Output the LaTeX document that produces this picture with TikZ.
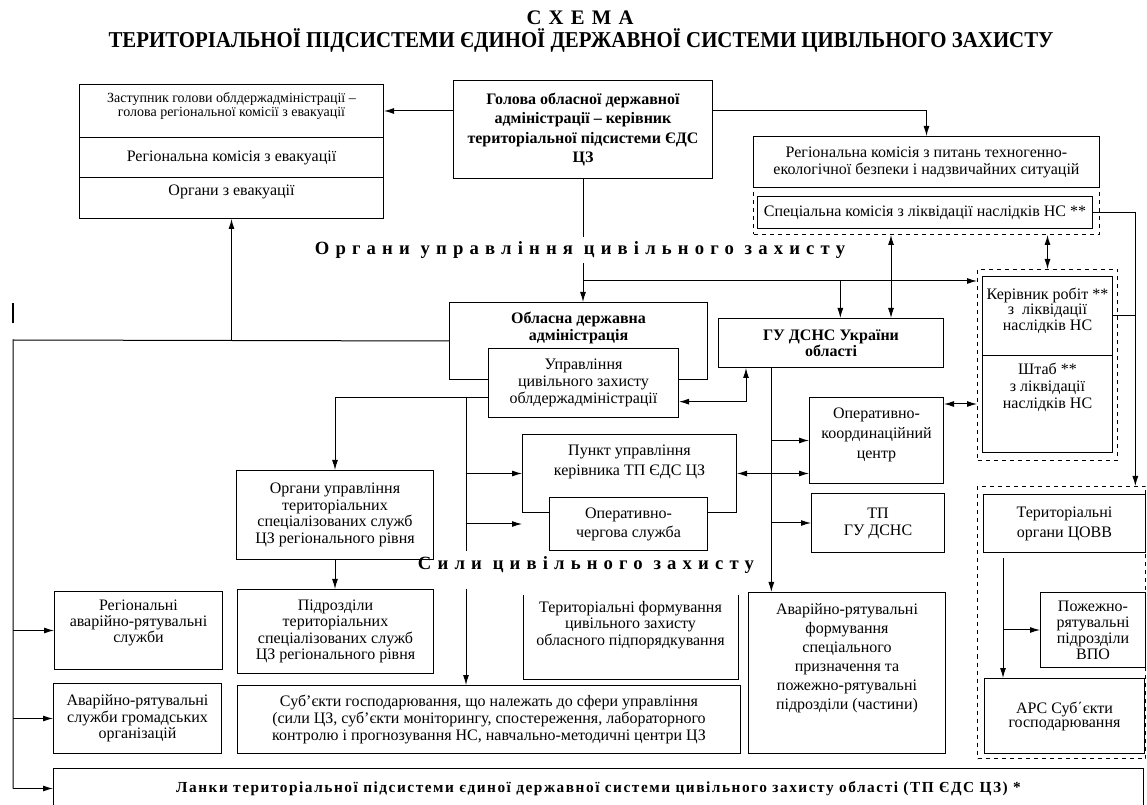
\documentclass[tikz,border=0pt]{standalone}
\usepackage{fontspec}
\setmainfont{Liberation Serif}
\newfontfamily\spaced[LetterSpace=33]{Liberation Serif}
\newfontfamily\lspaced[LetterSpace=10]{Liberation Serif}
\usepackage{graphicx}
\usetikzlibrary{arrows.meta}
\newcommand\fs[2]{\fontsize{#1}{#2}\selectfont}
\newcommand\lift[1]{\\[#1]\mbox{}}
\tikzset{
  box/.style={draw,line width=0.75pt,fill=white,inner sep=0pt,anchor=north west,align=center,font=\fs{12}{13.5}},
  boxsize/.style 2 args={minimum width=#1*0.75pt,minimum height=#2*0.75pt},
  frame/.style={draw,dashed,line width=0.75pt,inner sep=0pt,anchor=north west},
  heading/.style={font=\spaced\bfseries\fs{14}{16}},
  link/.style={line width=0.75pt},
  arr/.style={link,-{Latex[length=7.5pt,width=4.5pt]}},
  darr/.style={link,{Latex[length=7.5pt,width=4.5pt]}-{Latex[length=7.5pt,width=4.5pt]}}
}
\begin{document}
\begin{tikzpicture}[x=0.75pt,y=-0.75pt]
  \useasboundingbox (0,0) rectangle (1147,805);
  % title
  \node (title) at (580,18) {\lspaced\bfseries\fs{15.5}{17}С Х Е М А};
  \node (subtitle) at (581,40) {\bfseries\fs{17}{19}\scalebox{0.92}[1]{ТЕРИТОРІАЛЬНОЇ ПІДСИСТЕМИ ЄДИНОЇ ДЕРЖАВНОЇ СИСТЕМИ ЦИВІЛЬНОГО ЗАХИСТУ}};

  % evacuation
  \node[box,boxsize={304}{53},font=\fs{10.5}{10.5}] (zast) at (79,84) {Заступник голови облдержадміністрації –\\голова регіональної комісії з евакуації\lift{-1pt}};
  \node[box,boxsize={304}{40}] (evk) at (79,137) {Регіональна комісія з евакуації};
  \node[box,boxsize={304}{41}] (orgevk) at (79,177) {Органи з евакуації\lift{-2pt}};

  % head and commissions
  \node[box,boxsize={259}{98},font=\bfseries\fs{12}{14.3}] (head) at (453,80) {Голова обласної державної\\адміністрації – керівник\\територіальної підсистеми ЄДС\\ЦЗ};
  \node[frame,boxsize={346}{47}] (spkf) at (753,187) {};
  \node[box,boxsize={346}{51},font=\fs{12}{12.75}] (rkteb) at (753,136) {Регіональна комісія з питань техногенно-\\екологічної безпеки і надзвичайних ситуацій};
  \node[box,boxsize={335}{32}] (spk) at (757,196) {Спеціальна комісія з ліквідації наслідків НС **};

  \node[heading] (ouz) at (580,250) {Органи управління цивільного захисту};

  % management bodies
  \node[box,boxsize={258}{77},font=\bfseries\fs{12}{12.75}] (oda) at (449,302) {Обласна державна\\адміністрація\lift{10pt}};
  \node[box,boxsize={190}{69},font=\fs{12}{13}] (upr) at (488,348) {Управління\\цивільного захисту\\облдержадміністрації};
  \node[box,boxsize={225}{49},font=\bfseries\fs{12}{12}] (gu) at (718,318) {ГУ ДСНС України\\області};
  \node[frame,boxsize={140}{191}] (krf) at (977,269) {};
  \node[box,boxsize={130}{79},font=\fs{12}{11.6}] (kr) at (982,276) {Керівник робіт **\\з\ \ ліквідації\\наслідків НС\lift{-1pt}};
  \node[box,boxsize={130}{97},font=\fs{12}{12.75}] (shtab) at (982,355) {Штаб **\\з ліквідації\\наслідків НС\lift{15pt}};
  \node[box,boxsize={134}{86},font=\fs{12}{15}] (okc) at (809,397) {Оперативно-\\координаційний\\центр\lift{-4.5pt}};
  \node[box,boxsize={133}{59},font=\fs{12}{12.75}] (tp) at (811,493) {ТП\\ГУ ДСНС};
  \node[box,boxsize={214}{78},font=\fs{12}{15}] (pu) at (522,434) {Пункт управління\\керівника ТП ЄДС ЦЗ\lift{4.5pt}};
  \node[box,boxsize={158}{53},font=\fs{12}{14.25}] (ochs) at (549,497) {Оперативно-\\чергова служба};
  \node[box,boxsize={197}{89},font=\fs{12}{12.5}] (outs) at (236,470) {Органи управління\\територіальних\\спеціалізованих служб\\ЦЗ регіонального рівня};

  \node[heading] (sz) at (586,565) {Сили цивільного захисту};

  % forces
  \node[frame,boxsize={168}{272}] (tsfr) at (977,486) {};
  \node[box,boxsize={162}{58},font=\fs{12}{15}] (tocovv) at (983,494) {Територіальні\\органи ЦОВВ};
  \node[box,boxsize={105}{75},font=\fs{12}{12}] (vpo) at (1040,592) {Пожежно-\\рятувальні\\підрозділи\\ВПО};
  \node[box,boxsize={160}{75},font=\fs{12}{10.5}] (ars) at (984,678) {АРС Суб΄єкти\\господарювання};
  \node[box,boxsize={197}{161},font=\fs{12}{14.25}] (arf) at (748,592) {Аварійно-рятувальні\\формування\\спеціального\\призначення та\\пожежно-рятувальні\\підрозділи (частини)\lift{11pt}};
  \node[box,boxsize={168}{78},font=\fs{12}{12}] (ras) at (54,591) {Регіональні\\аварійно-рятувальні\\служби\lift{1.5pt}};
  \node[box,boxsize={196}{84},font=\fs{12}{12.25}] (pidr) at (237,589) {Підрозділи\\територіальних\\спеціалізованих служб\\ЦЗ регіонального рівня};
  \node[box,draw=none,boxsize={214}{83},font=\fs{12}{12.4}] (tf) at (523,595) {Територіальні формування\\цивільного захисту\\обласного підпорядкування\lift{8.5pt}};
  \draw[link] (tf.north west) -- (tf.south west) -- (tf.south east) -- (tf.north east);
  \node[box,boxsize={168}{70},font=\fs{12}{12.4}] (gro) at (53,683) {Аварійно-рятувальні\\служби громадських\\організацій};
  \node[box,boxsize={503}{68},font=\fs{12}{13}] (sub) at (237,685) {Суб’єкти господарювання, що належать до сфери управління\\(сили ЦЗ, суб’єкти моніторингу, спостереження, лабораторного\\контролю і прогнозування НС, навчально-методичні центри ЦЗ};
  \node[box,boxsize={1090}{40},font=\lspaced\bfseries\fs{11.5}{13}] (lanky) at (53,768) {Ланки територіальної підсистеми єдиної державної системи цивільного захисту області (ТП ЄДС ЦЗ) *};

  % connectors from the head
  \draw[arr] (head.west |- zast.east) -- (zast.east);
  \draw[arr] (head.east |- zast.east) -| (rkteb.north);
  \draw[link] (head.south) -- (head.south |- ouz.north);
  \draw[arr] (head.south |- ouz.south) -- (head.south |- oda.north);
  \coordinate (hub) at (583,281);
  \draw[arr] (hub) -- (hub -| krf.west);
  \draw[arr] ([xshift=7pt]gu.north |- hub) -- ([xshift=7pt]gu.north);
  \draw[darr] ([xshift=45pt]gu.north) -- ([xshift=45pt]gu.north |- spkf.south);
  \draw[darr] (krf.north) -- (krf.north |- spkf.south);
  \coordinate (rr) at ([xshift=-8pt]tsfr.north east);
  \draw[arr] (spk.east) -| (rr);
  \draw[link] (kr.east) -- (kr.east -| rr);

  % left rail
  \coordinate (rail) at (13,340);
  \draw[link] (oda.west) -- (rail) -- (rail |- lanky.west);
  \foreach \n in {ras,gro,lanky}
    \draw[arr] (rail |- \n.west) -- (\n.west);
  \draw[arr] (orgevk.south |- rail) -- (orgevk.south);
  \draw[line width=1.1pt] (13,303) -- (13,323);

  % middle
  \draw[arr] ([yshift=-11pt]upr.west) -| (outs.north);
  \coordinate (mid) at (466,397);
  \draw[link] (mid) -- (mid |- ochs.south);
  \draw[arr] (mid |- pu.west) -- (pu.west);
  \draw[arr] (mid |- ochs.west) -- (ochs.west -| pu.west);
  \draw[arr] (mid |- pidr.north) -- (mid |- sub.north);
  \draw[arr] (outs.south) -- (outs.south |- pidr.north);
  \draw[darr] ([yshift=-14pt]upr.east) -| ([xshift=21pt]gu.south west);

  % civil protection service
  \coordinate (gv) at ([xshift=40pt]gu.south west);
  \draw[arr] (gv) -- (gv |- arf.north);
  \draw[arr] (gv |- okc.west) -- (okc.west);
  \draw[arr] (gv |- tp.west) -- (tp.west);
  \draw[darr] (pu.east) -- (pu.east -| okc.west);
  \draw[darr] (okc.east |- shtab.west) -- (krf.west |- shtab.west);

  % central bodies
  \coordinate (cv) at ([xshift=15pt,yshift=-4pt]tocovv.south west);
  \draw[arr] (cv) -- (cv |- ars.north);
  \draw[arr] (cv |- vpo.west) -- (vpo.west);
\end{tikzpicture}
\end{document}
